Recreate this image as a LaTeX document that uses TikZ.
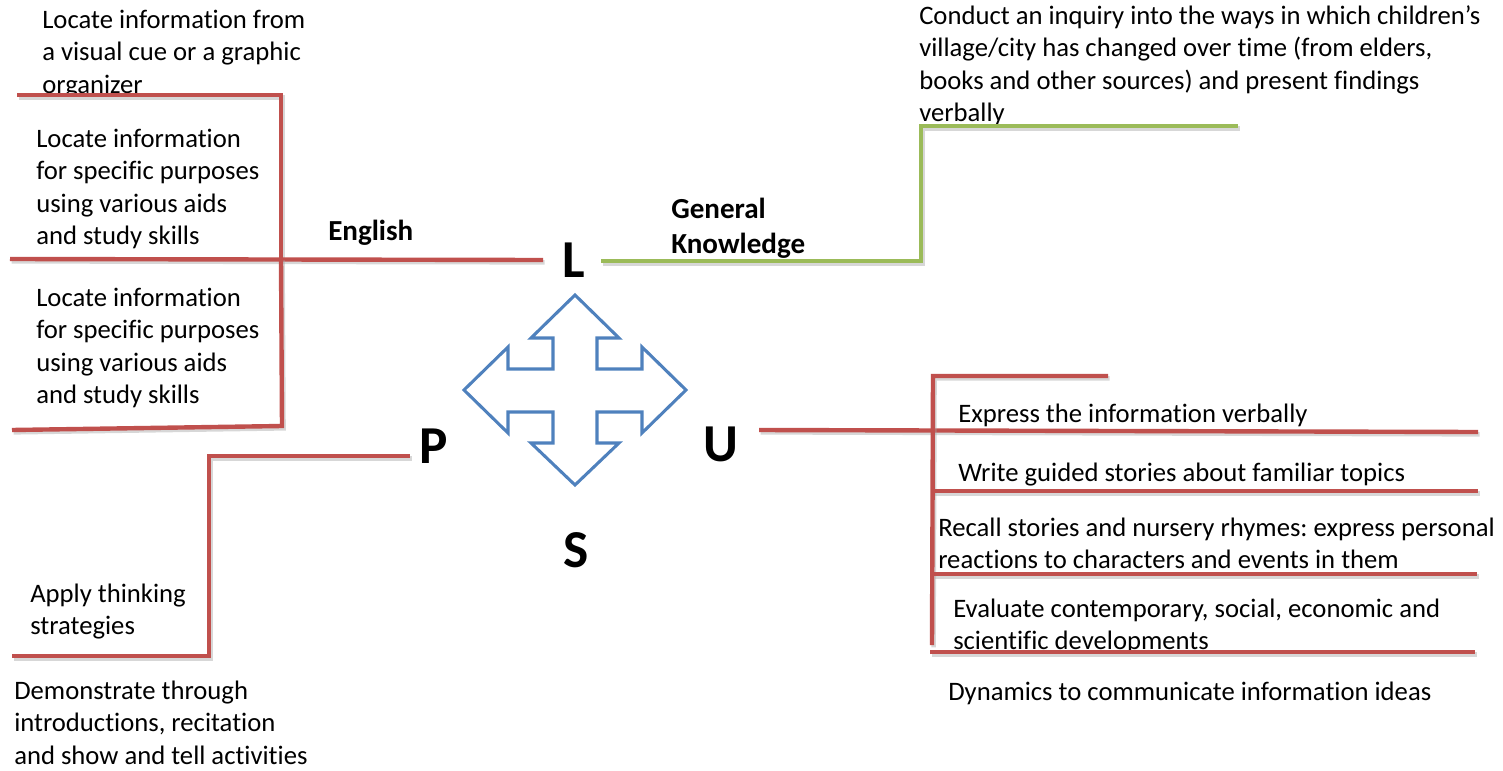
\documentclass[tikz,border=0pt]{standalone}
\usepackage{fontspec}
\setmainfont{Carlito}[Ligatures=CommonOff]
\definecolor{lred}{HTML}{C0504D}
\definecolor{lgreen}{HTML}{9BBB59}
\definecolor{lblue}{HTML}{4F81BD}
\frenchspacing
\begin{document}
\begin{tikzpicture}[x=0.75pt,y=-0.75pt,
  txt/.style={anchor=north west, inner sep=0pt, align=left,
    font=\fontsize{20}{24.4}\selectfont},
  hd/.style={anchor=north west, inner sep=0pt, align=left,
    font=\fontsize{21.8}{26}\selectfont\bfseries},
  big/.style={inner sep=0pt, font=\fontsize{40}{48}\selectfont\bfseries},
  shade/.style={preaction={draw=black!35, opacity=0.45, line width=3.3pt,
    transform canvas={xshift=1.2pt,yshift=-1.8pt}}},
  redline/.style={draw=lred, line width=3.3pt, line join=miter, shade},
  greenline/.style={draw=lgreen, line width=3.3pt, line join=miter, shade},
  crossarrow/.style={draw=lblue, line width=2.3pt, line join=miter}]
\useasboundingbox (0,0) rectangle (1503,771);

% central letters
\node[big] (L) at (574,260) {L};
\node[big] (P) at (434,446) {P};
\node[big] (U) at (721,444) {U};
\node[big] (S) at (576,550) {S};

% four-way arrow
\draw[crossarrow] (575,295) -- (619,338) -- (597,338) -- (597,369) -- (642,369)
  -- (642,347) -- (686,390) -- (642,433) -- (642,412) -- (597,412) -- (597,443)
  -- (619,443) -- (575,485) -- (531,443) -- (553,443) -- (553,412) -- (508,412)
  -- (508,433) -- (464,390) -- (508,347) -- (508,369) -- (553,369) -- (553,338)
  -- (531,338) -- cycle;

% English branch texts
\begin{scope}
  \clip (0,0) rectangle (330,93);
  \node[txt] (t1) at (42,5) {\strut Locate information from\\a visual cue or a graphic\\organizer};
\end{scope}
\node[txt] (t2) at (36,124) {\strut Locate information\\for specific purposes\\using various aids\\and study skills};
\node[txt] (t3) at (36,283) {\strut Locate information\\for specific purposes\\using various aids\\and study skills};
\node[hd] (eng) at (328,216) {\strut English};

% General Knowledge branch texts
\begin{scope}
  \clip (600,0) rectangle (915,258);
  \node[hd] (gk) at (671,194) {\strut General\\Knowledge};
\end{scope}
\begin{scope}
  \clip (900,0) rectangle (1503,124);
  \node[txt] (t4) at (919,1) {\strut Conduct an inquiry into the ways in which children’s\\village/city has changed over time (from elders,\\books and other sources) and present findings\\verbally};
\end{scope}

% P branch texts
\node[txt] (t5) at (30,579) {\strut Apply thinking\\strategies};
\node[txt] (t6) at (14,676) {\strut Demonstrate through\\introductions, recitation\\and show and tell activities};

% U branch texts
\node[txt] (t7) at (958,399) {\strut Express the information verbally};
\node[txt] (t8) at (958,458) {\strut Write guided stories about familiar topics};
\node[txt] (t9) at (938,513) {\strut Recall stories and nursery rhymes: express personal\\reactions to characters and events in them};
\begin{scope}
  \clip (900,590) rectangle (1503,650);
  \node[txt] (t10) at (953,594) {\strut Evaluate contemporary, social, economic and\\scientific developments};
\end{scope}
\node[txt] (t11) at (948,677) {\strut Dynamics to communicate information ideas};

% English connectors
\coordinate (e1) at (17,95);
\coordinate (e2) at (281,95);
\coordinate (e3) at (281,258);
\coordinate (e4) at (10,259);
\coordinate (e5) at (543,260);
\coordinate (e6) at (282,426);
\coordinate (e7) at (12,430);
\draw[redline] (e1) -- (e2) -- (e3);
\draw[redline] (e4) -- (e5);
\draw[redline] (e3) -- (e6) -- (e7);

% General Knowledge connector
\coordinate (g1) at (601,261);
\coordinate (g2) at (921,261);
\coordinate (g3) at (921,126);
\coordinate (g4) at (1238,126);
\draw[greenline] (g1) -- (g2) -- (g3) -- (g4);

% P connector
\coordinate (p1) at (410,456);
\coordinate (p2) at (209,456);
\coordinate (p3) at (209,656);
\coordinate (p4) at (12,656);
\draw[redline] (p1) -- (p2) -- (p3) -- (p4);

% U connectors
\coordinate (u1) at (759,430);
\coordinate (u2) at (1478,432);
\coordinate (b1) at (1108,376);
\coordinate (b2) at (933,376);
\coordinate (b3) at (932,645);
\coordinate (r1) at (933,491);
\coordinate (r2) at (1478,491);
\coordinate (r3) at (933,574);
\coordinate (r4) at (1477,574);
\coordinate (r5) at (930,652);
\coordinate (r6) at (1475,652);
\draw[redline] (u1) -- (u2);
\draw[redline] (b1) -- (b2) -- (b3);
\draw[redline] (r1) -- (r2);
\draw[redline] (r3) -- (r4);
\draw[redline] (r5) -- (r6);
\end{tikzpicture}
\end{document}
